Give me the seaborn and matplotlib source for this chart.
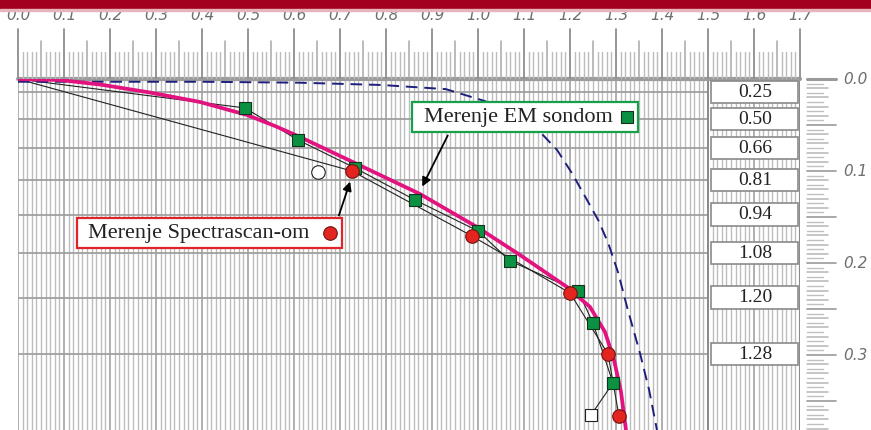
import numpy as np
import pandas as pd
import matplotlib.pyplot as plt
import seaborn as sns
from matplotlib.patches import Rectangle

# horizontal reading (top scale) vs depth (right scale, grows downward)
fit_x = [0.0, 0.0913, 0.1783, 0.287, 0.3957, 0.4978, 0.5587, 0.613, 0.737, 0.8739,
         0.9978, 1.0913, 1.1935, 1.2435, 1.2761, 1.2957, 1.3109, 1.3217]
fit_y = [0.0, 0.0011, 0.006, 0.0147, 0.025, 0.0391, 0.0511, 0.063, 0.0924, 0.125,
         0.1609, 0.1913, 0.2261, 0.2478, 0.275, 0.3054, 0.3402, 0.3815]

model_x = [0.0, 0.40, 0.61, 0.79, 0.93, 1.015, 1.08, 1.135, 1.172, 1.205, 1.237, 1.262,
           1.283, 1.305, 1.324, 1.352, 1.372, 1.389]
model_y = [0.003, 0.003, 0.004, 0.0065, 0.011, 0.024, 0.039, 0.0576, 0.0772, 0.103, 0.1315,
           0.154, 0.1783, 0.211, 0.2478, 0.2978, 0.338, 0.3815]

em_x = [0.4935, 0.6087, 0.7326, 0.863, 1.0, 1.0696, 1.2174, 1.25, 1.2935]
em_y = [0.0315, 0.0663, 0.0967, 0.1315, 0.1652, 0.1978, 0.2304, 0.2652, 0.3304]
em_open = (1.2457, 0.3652)

spec_x = [0.726, 0.987, 1.2, 1.2826, 1.3065]
spec_y = [0.100, 0.1707, 0.2326, 0.2989, 0.3663]
spec_open = (0.652, 0.1011)

level_labels = ['0.25', '0.50', '0.66', '0.81', '0.94', '1.08', '1.20', '1.28']
level_depths = [0.0141, 0.0435, 0.075, 0.1098, 0.1473, 0.1891, 0.2375, 0.2989]

top_labels = ['0.0', '0.1', '0.2', '0.3', '0.4', '0.5', '0.6', '0.7', '0.8',
              '0.9', '1.0', '1.1', '1.2', '1.3', '1.4', '1.5', '1.6', '1.7']
right_labels = ['0.0', '0.1', '0.2', '0.3']

sns.set_style('white')
plt.rcParams['font.family'] = ['DejaVu Sans']

W, H = 871, 430
fig = plt.figure(figsize=(W / 100, H / 100), dpi=100)
fig.patches.append(Rectangle((0, 1 - 9 / H), 1, 9 / H, transform=fig.transFigure,
                             color='#a3001f', zorder=5))
fig.patches.append(Rectangle((0, 1 - 10.5 / H), 1, 1.5 / H, transform=fig.transFigure,
                             color='#e7b3bc', zorder=5))

x0, x1, ytop = 18, 800, 79
ax = fig.add_axes([x0 / W, 0, (x1 - x0) / W, (H - ytop) / H])
ax.set_xlim(0, 1.7)
ax.set_ylim((H - ytop) / 920, 0)
ax.axis('off')

# grid
for v in np.round(np.arange(0, 1.7001, 0.01), 2):
    major = abs(v * 10 - round(v * 10)) < 1e-6
    ax.axvline(v, color='#9a9a9a' if major else '#bdbdbd', lw=1.1 if major else 1.0, zorder=0)
ax.hlines(level_depths, 0, 1.5, color='#a0a0a0', lw=1.3, zorder=0.5)
ax.axvline(1.5, color='#8a8a8a', lw=1.4, zorder=0.6)
ax.axvline(1.7, color='#8a8a8a', lw=1.5, zorder=0.6)
ax.axhline(0, color='#9c9c9c', lw=3, zorder=1, clip_on=False)

# level boxes
for lab, d in zip(level_labels, level_depths):
    ax.add_patch(Rectangle((1.507, d - 0.012), 0.1895, 0.024, facecolor='white',
                           edgecolor='#8a8a8a', lw=1.2, zorder=2))
    ax.text(1.602, d + 0.0005, lab, ha='center', va='center', fontsize=14,
            family='Liberation Serif', color='#222222', zorder=3)

# thin connecting lines
sns.lineplot(x=[0.0] + em_x + [em_open[0]], y=[0.0] + em_y + [em_open[1]], sort=False,
             estimator=None, color='#222222', lw=0.8, ax=ax, zorder=3)
sns.lineplot(x=[0.0] + spec_x, y=[0.0] + spec_y, sort=False, estimator=None,
             color='#222222', lw=0.8, ax=ax, zorder=3)

sns.lineplot(x=model_x, y=model_y, sort=False, estimator=None, color='#1d1f7c',
             lw=1.4, linestyle=(0, (6, 3.5)), ax=ax, zorder=3)
sns.lineplot(x=fit_x, y=fit_y, sort=False, estimator=None, color='#e2127f',
             lw=2.7, ax=ax, zorder=4)
ax.lines[-1].set_solid_joinstyle('round')

sns.scatterplot(x=em_x, y=em_y, marker='s', s=80, color='#0a9141', edgecolor='#14321c',
                linewidth=0.8, ax=ax, zorder=5)
sns.scatterplot(x=[em_open[0]], y=[em_open[1]], marker='s', s=80, color='white',
                edgecolor='#222222', linewidth=0.8, ax=ax, zorder=5)
sns.scatterplot(x=spec_x, y=spec_y, marker='o', s=95, color='#e3241f', edgecolor='#6e1412',
                linewidth=0.8, ax=ax, zorder=6)
sns.scatterplot(x=[spec_open[0]], y=[spec_open[1]], marker='o', s=95, color='white',
                edgecolor='#222222', linewidth=0.8, ax=ax, zorder=6)

# callout boxes
ax.add_patch(Rectangle((0.8565, 0.025), 0.4915, 0.0326, facecolor='white',
                       edgecolor='#16a04a', lw=1.6, zorder=7))
ax.text(0.883, 0.0418, 'Merenje EM sondom', ha='left', va='center', fontsize=16,
        family='Liberation Serif', color='#222222', zorder=8)
ax.scatter([1.324], [0.0413], marker='s', s=80, color='#0a9141', edgecolor='#14321c',
           linewidth=0.8, zorder=8)
ax.annotate('', xy=(0.876, 0.1196), xytext=(0.937, 0.0587),
            arrowprops=dict(arrowstyle='-|>', color='black', lw=1.3, mutation_scale=13), zorder=7)

ax.add_patch(Rectangle((0.1283, 0.1511), 0.576, 0.0326, facecolor='white',
                       edgecolor='#e0242a', lw=1.6, zorder=7))
ax.text(0.152, 0.1679, 'Merenje Spectrascan-om', ha='left', va='center', fontsize=16,
        family='Liberation Serif', color='#222222', zorder=8)
ax.scatter([0.678], [0.1674], marker='o', s=95, color='#e3241f', edgecolor='#6e1412',
           linewidth=0.8, zorder=8)
ax.annotate('', xy=(0.7239, 0.1087), xytext=(0.6957, 0.1511),
            arrowprops=dict(arrowstyle='-|>', color='black', lw=1.3, mutation_scale=13), zorder=7)

# top ruler
rt = fig.add_axes([x0 / W, 1 - ytop / H, (x1 - x0) / W, ytop / H])
rt.set_xlim(0, 1.7)
rt.set_ylim(ytop, 0)
rt.axis('off')
for i in range(171):
    v = i / 100
    if i % 10 == 0:
        rt.plot([v, v], [29, 78], color='#8e8e8e', lw=1.3, clip_on=False)
    elif i % 5 == 0:
        rt.plot([v, v], [41, 78], color='#a8a8a8', lw=1.1, clip_on=False)
    else:
        rt.plot([v, v], [52, 78], color='#bcbcbc', lw=1.0, clip_on=False)
for i, lab in enumerate(top_labels):
    rt.text(i / 10, 16, lab, ha='center', va='center', fontsize=11, style='italic',
            color='#6e6e6e', clip_on=False)

# right ruler
rr = fig.add_axes([x1 / W, 0, (W - x1) / W, (H - ytop) / H])
rr.set_xlim(0, W - x1)
rr.set_ylim((H - ytop) / 920, 0)
rr.axis('off')
for i in range(77):
    d = i * 0.005
    if i % 10 == 0:
        rr.plot([7, 36], [d, d], color='#9a9a9a', lw=2.2 if i == 0 else 1.2, clip_on=False)
    elif i % 2 == 0:
        rr.plot([7, 28], [d, d], color='#b5b5b5', lw=1.1)
    else:
        rr.plot([7, 23], [d, d], color='#c0c0c0', lw=1.0)
for i, lab in enumerate(right_labels):
    rr.text(43, i / 10, lab, ha='left', va='center', fontsize=11, style='italic',
            color='#6e6e6e')

fig.savefig('out.png', dpi=100)
